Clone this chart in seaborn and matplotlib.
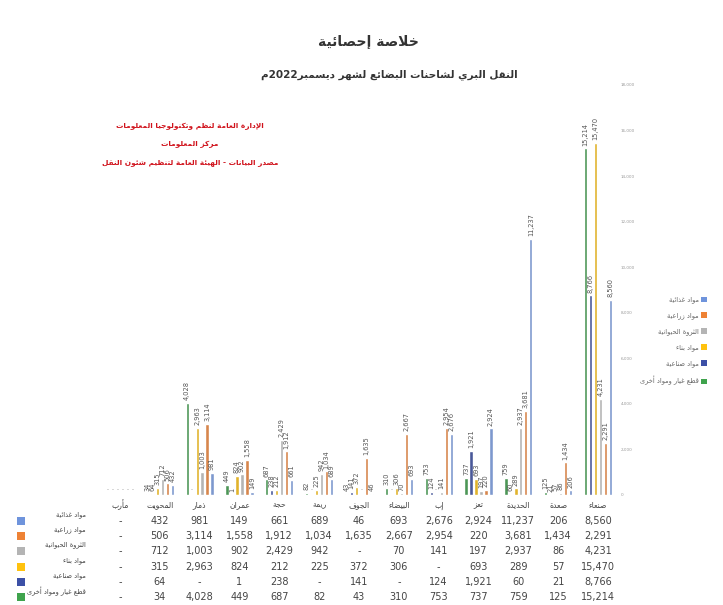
# =====================================
# Import libraries
# =====================================
import re
import numpy as np
import pandas as pd
import matplotlib
matplotlib.use("Agg")
import matplotlib.pyplot as plt
from matplotlib.patches import Patch
from matplotlib.transforms import blended_transform_factory
import seaborn as sns

# =====================================
# Data (read from the reference table)
# =====================================
governorates = ["مأرب", "المحويت", "ذمار", "عمران", "حجة", "ريمة", "الجوف",
                "البيضاء", "إب", "تعز", "الحديدة", "صعدة", "صنعاء"]

series_names = ["مواد غذائية", "مواد زراعية", "الثروة الحيوانية",
                "مواد بناء", "مواد صناعية", "قطع غيار ومواد أخرى"]

food = [0, 432, 981, 149, 661, 689, 46, 693, 2676, 2924, 11237, 206, 8560]
agri = [0, 506, 3114, 1558, 1912, 1034, 1635, 2667, 2954, 220, 3681, 1434, 2291]
livestock = [0, 712, 1003, 902, 2429, 942, 0, 70, 141, 197, 2937, 86, 4231]
building = [0, 315, 2963, 824, 212, 225, 372, 306, 0, 693, 289, 57, 15470]
industrial = [0, 64, 0, 1, 238, 0, 141, 0, 124, 1921, 60, 21, 8766]
spare_parts = [0, 34, 4028, 449, 687, 82, 43, 310, 753, 737, 759, 125, 15214]

series_values = [food, agri, livestock, building, industrial, spare_parts]
series_colors = ["#6f94dc", "#ee8235", "#b4b4b4", "#ffc20e", "#3c50a6", "#3fa34d"]

# bars inside each group are drawn left to right in this order
hue_order = [series_names[5], series_names[4], series_names[3],
             series_names[2], series_names[1], series_names[0]]

title = "خلاصة إحصائية"
subtitle = "النقل البري لشاحنات البضائع لشهر ديسمبر2022م"
red_lines = ["الإدارة العامة لنظم وتكنولوجيا المعلومات",
             "مركز المعلومات",
             "مصدر البيانات - الهيئة العامة لتنظيم شئون النقل"]

# =====================================
# Minimal Arabic shaping (no bidi libs available)
# =====================================
DUAL = set("بتثجحخسشصضطظعغفقكلمنهيئ")
BASE = {"ء": 0xFE80, "آ": 0xFE81, "أ": 0xFE83, "ؤ": 0xFE85, "إ": 0xFE87,
        "ئ": 0xFE89, "ا": 0xFE8D, "ب": 0xFE8F, "ة": 0xFE93, "ت": 0xFE95,
        "ث": 0xFE99, "ج": 0xFE9D, "ح": 0xFEA1, "خ": 0xFEA5, "د": 0xFEA9,
        "ذ": 0xFEAB, "ر": 0xFEAD, "ز": 0xFEAF, "س": 0xFEB1, "ش": 0xFEB5,
        "ص": 0xFEB9, "ض": 0xFEBD, "ط": 0xFEC1, "ظ": 0xFEC5, "ع": 0xFEC9,
        "غ": 0xFECD, "ف": 0xFED1, "ق": 0xFED5, "ك": 0xFED9, "ل": 0xFEDD,
        "م": 0xFEE1, "ن": 0xFEE5, "ه": 0xFEE9, "و": 0xFEED, "ى": 0xFEEF,
        "ي": 0xFEF1}
LAM_ALEF = {"ا": 0xFEFB, "أ": 0xFEF7, "إ": 0xFEF9, "آ": 0xFEF5}


def shape(s):
    out = []
    i = 0
    n = len(s)
    while i < n:
        c = s[i]
        if c not in BASE:
            out.append(c)
            i += 1
            continue
        prev = s[i - 1] if i > 0 else ""
        join_prev = prev in DUAL and c != "ء"
        if c == "ل" and i + 1 < n and s[i + 1] in LAM_ALEF:
            out.append(chr(LAM_ALEF[s[i + 1]] + (1 if join_prev else 0)))
            i += 2
            continue
        nxt = s[i + 1] if i + 1 < n else ""
        join_next = c in DUAL and nxt in BASE and nxt != "ء"
        b = BASE[c]
        if join_prev and join_next:
            g = b + 3
        elif join_prev:
            g = b + 1
        elif join_next:
            g = b + 2
        else:
            g = b
        out.append(chr(g))
        i += 1
    return "".join(out)


def ar(s):
    parts = re.findall(r"[0-9][0-9,.]*|[^0-9]+", shape(s))
    return "".join(p if p[0].isdigit() else p[::-1] for p in reversed(parts))


def fmt(v):
    return "-" if v == 0 else f"{v:,}"

# =====================================
# Build long table for seaborn
# =====================================
rows = []
for name, vals in zip(series_names, series_values):
    for g, v in zip(governorates, vals):
        rows.append({"gov": g, "type": name, "value": v})
df = pd.DataFrame(rows)

palette = dict(zip(series_names, series_colors))

# =====================================
# Plot
# =====================================
sns.set_style("white")
plt.rcParams["font.family"] = ["DejaVu Sans"]

fig = plt.figure(figsize=(7.23, 6.05), dpi=100)
W, H = 723.0, 605.0
ax = fig.add_axes([100 / W, 110 / H, 518 / W, 410 / H])

sns.barplot(data=df, x="gov", y="value", hue="type", order=governorates,
            hue_order=hue_order, palette=palette, width=0.75, gap=0.35,
            ax=ax, legend=False)

ax.set_xlim(-0.5, len(governorates) - 0.5)
ax.set_ylim(0, 18000)
ax.set_xlabel("")
ax.set_ylabel("")
ax.set_xticks([])
ax.yaxis.tick_right()
ax.set_yticks(np.arange(0, 18001, 2000))
ax.set_yticklabels([f"{t:,}" for t in range(0, 18001, 2000)],
                   fontsize=3, color="#999999")
ax.tick_params(axis="y", length=0, pad=2)
for sp in ax.spines.values():
    sp.set_visible(False)

# value labels above bars
for cont, name in zip(ax.containers, hue_order):
    vals = series_values[series_names.index(name)]
    texts = ax.bar_label(cont, labels=[fmt(v) for v in vals], rotation=90,
                         fontsize=4.8, color="#555555", padding=2)
    for t, v in zip(texts, vals):
        if v == 0:
            t.set_rotation(0)
            t.set_fontsize(4)
            t.set_color("#888888")

# =====================================
# Titles and red notes
# =====================================
fig.text(368 / W, 1 - 42 / H, ar(title), ha="center", va="center",
         fontsize=10, fontweight="bold", color="#333333")
fig.text(389 / W, 1 - 75 / H, ar(subtitle), ha="center", va="center",
         fontsize=7.5, fontweight="bold", color="#333333")
for txt, ypx in zip(red_lines, [126, 144, 163]):
    fig.text(190 / W, 1 - ypx / H, ar(txt), ha="center", va="center",
             fontsize=5.3, fontweight="bold", color="#d0121b")

# =====================================
# Legend (right side, RTL style)
# =====================================
handles = [Patch(facecolor=c, edgecolor="none") for c in series_colors]
fig.legend(handles, [ar(n) for n in series_names], loc="center left",
           bbox_to_anchor=(634 / W, 1 - 341 / H), frameon=False,
           fontsize=4.8, labelcolor="#666666", markerfirst=False,
           handlelength=0.9, handleheight=0.9, handletextpad=0.4,
           labelspacing=1.35)

# =====================================
# Data table under the chart
# =====================================
tr = blended_transform_factory(ax.transData, fig.transFigure)
for i, g in enumerate(governorates):
    fig.text(i, 1 - 505 / H, ar(g), transform=tr, ha="center", va="center",
             fontsize=5.5, color="#444444")

row_y = [521, 536, 551, 567, 582, 597]
for name, vals, col, ypx in zip(series_names, series_values, series_colors, row_y):
    fig.text(86 / W, 1 - (ypx - 6) / H, ar(name), ha="right", va="center",
             fontsize=4.8, color="#444444")
    fig.patches.append(plt.Rectangle((17 / W, 1 - (ypx + 4) / H), 8 / W, 8 / H,
                                     transform=fig.transFigure,
                                     facecolor=col, edgecolor="none"))
    for i, v in enumerate(vals):
        fig.text(i, 1 - ypx / H, fmt(v), transform=tr, ha="center",
                 va="center", fontsize=7, color="#444444")

plt.savefig("out.png", dpi=100)
print("Saved out.png")
